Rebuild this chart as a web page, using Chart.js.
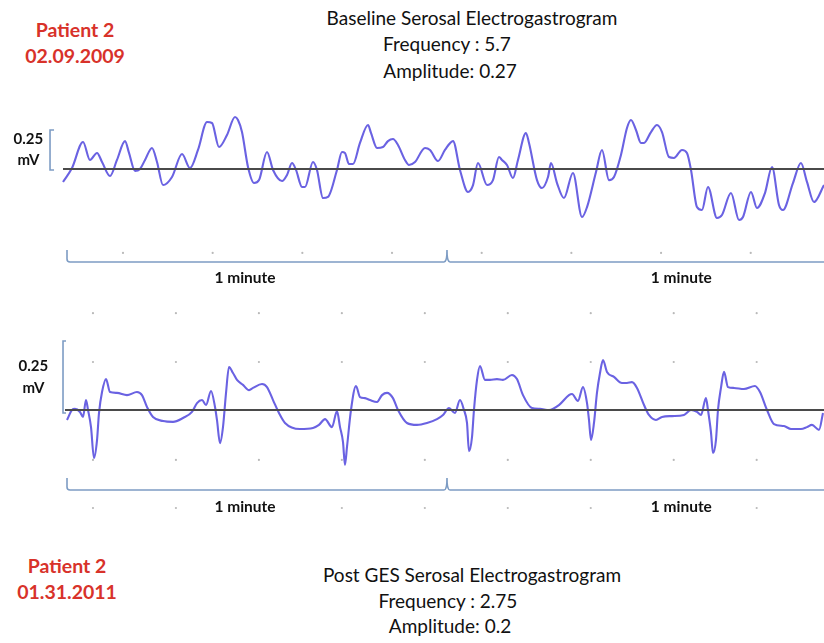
<!DOCTYPE html>
<html>
<head>
<meta charset="utf-8">
<script src="https://cdn.jsdelivr.net/npm/chart.js@4/dist/chart.umd.min.js"></script>
<style>
  html, body { margin: 0; padding: 0; background: #fff; }
  #page { position: relative; width: 824px; height: 643px; overflow: hidden; font-family: Lato, "Open Sans", sans-serif; }
  .txt { position: absolute; white-space: nowrap; transform: translate(-50%, -50%); line-height: 1; }
  .head { font-size: 19px; color: #111; }
  .pat { font-size: 19.5px; font-weight: bold; color: #d8322a; }
  canvas { position: absolute; left: 0; }
</style>
</head>
<body>
<div id="page">
  <div class="txt pat" style="left:75px; top:30px;">Patient 2</div>
  <div class="txt pat" style="left:75px; top:56px;">02.09.2009</div>
  <div class="txt head" style="left:472px; top:17px;">Baseline Serosal Electrogastrogram</div>
  <div class="txt head" style="left:447px; top:43px;">Frequency : 5.7</div>
  <div class="txt head" style="left:450px; top:70px;">Amplitude: 0.27</div>

  <canvas id="topTrace" width="824" height="210" style="top:90px;"></canvas>
  <canvas id="bottomTrace" width="824" height="230" style="top:300px;"></canvas>

  <div class="txt pat" style="left:67px; top:566px;">Patient 2</div>
  <div class="txt pat" style="left:67px; top:592px;">01.31.2011</div>
  <div class="txt head" style="left:472px; top:574px;">Post GES Serosal Electrogastrogram</div>
  <div class="txt head" style="left:448px; top:600px;">Frequency : 2.75</div>
  <div class="txt head" style="left:450px; top:625px;">Amplitude: 0.2</div>
</div>
<script>
// Baseline recording: time (s) and potential (mV)
const baselineTime = [-0.63,0.79,2.53,3.63,4.74,5.53,6.79,7.89,9.16,9.79,10.74,11.53,12.32,13.42,14.21,15.16,16.58,18.16,19.42,20.68,22.11,22.89,24.0,25.26,26.53,27.0,27.63,28.58,29.53,30.32,31.58,32.53,33.95,34.74,35.53,36.16,37.11,37.58,38.84,39.47,40.42,41.21,42.63,43.42,43.89,44.53,45.16,46.26,47.53,48.0,48.95,49.89,50.68,51.47,52.26,53.37,54.0,54.95,56.53,57.32,58.58,59.68,60.95,62.05,63.32,64.11,64.89,66.32,67.26,68.21,68.68,69.47,70.42,71.21,72.47,72.95,74.21,75.0,75.95,76.42,77.37,78.47,79.89,81.32,82.11,83.53,84.47,85.58,86.37,87.47,88.42,89.05,89.84,90.63,91.11,92.21,93.16,93.95,95.05,95.84,97.11,97.89,98.53,99.47,100.26,101.21,102.63,103.42,104.84,106.11,106.74,108.0,108.95,110.21,111.32,112.42,113.05,114.63,115.89,116.84,117.95,119.53];
const baselineMv = [-0.083,0.006,0.173,0.058,0.103,0.045,-0.045,0.058,0.179,0.103,-0.013,0.0,0.058,0.135,0.045,-0.103,-0.051,0.096,0.006,0.122,0.301,0.295,0.141,0.218,0.333,0.314,0.237,0.013,-0.090,-0.071,0.109,-0.006,-0.077,-0.038,0.038,-0.006,-0.115,-0.115,0.045,-0.006,-0.186,-0.179,-0.006,0.109,0.103,0.032,0.032,0.167,0.282,0.231,0.135,0.141,0.179,0.192,0.154,0.058,0.026,0.045,0.135,0.122,0.051,0.122,0.179,-0.006,-0.147,-0.103,0.038,-0.103,-0.071,0.077,0.058,0.026,-0.058,0.058,0.231,0.167,-0.071,-0.122,-0.051,0.038,-0.090,-0.186,-0.026,-0.308,-0.244,-0.019,0.122,-0.071,-0.051,0.090,0.263,0.314,0.250,0.167,0.167,0.237,0.282,0.237,0.077,0.071,0.122,0.103,-0.006,-0.244,-0.263,-0.115,-0.314,-0.295,-0.154,-0.327,-0.308,-0.147,-0.250,-0.154,0.013,-0.231,-0.263,-0.090,0.038,-0.083,-0.212,-0.103];

// Post-GES recording: time (s) and potential (mV)
const postTime = [0,0.79,1.26,2.05,2.53,3.0,3.32,3.79,4.26,4.74,5.05,5.53,6.16,6.79,7.89,9.47,11.05,11.84,12.63,13.58,15.16,16.74,18.32,19.74,20.53,21.32,21.95,22.74,23.37,23.68,24.16,24.63,25.11,25.58,26.21,26.84,27.79,28.74,29.37,30.79,31.58,32.53,33.47,34.42,36.79,38.84,39.79,40.74,41.84,42.63,43.11,43.58,43.89,44.21,44.84,45.63,46.26,47.05,47.84,48.95,49.74,50.53,51.47,52.26,53.68,55.26,56.84,58.42,59.37,60.32,61.26,62.05,62.68,63.16,63.47,63.95,64.26,64.74,65.21,66.0,66.79,67.89,68.84,70.26,71.05,72.0,73.42,74.68,76.11,77.68,79.26,79.74,80.68,81.47,82.11,82.42,82.74,83.21,83.68,84.16,84.63,85.26,86.37,87.63,88.42,89.21,90.0,91.11,91.89,93.0,93.95,95.53,97.42,98.53,99.47,100.11,100.89,101.21,101.68,102.0,102.47,102.79,103.26,103.74,104.37,105.32,106.89,108.63,109.42,110.53,111.63,113.21,114.32,115.89,116.84,117.63,118.74,119.37];
const postMv = [-0.036,0,0.004,-0.007,-0.025,0.036,0,-0.062,-0.174,-0.109,-0.011,0.065,0.112,0.065,0.062,0.054,0.065,0.054,0.011,-0.025,-0.040,-0.043,-0.029,-0.007,0.025,0.036,0.018,0.069,0.011,-0.036,-0.120,-0.062,0.062,0.156,0.134,0.109,0.091,0.072,0.080,0.094,0.083,0.036,-0.011,-0.047,-0.069,-0.065,-0.054,-0.033,-0.062,-0.004,-0.062,-0.116,-0.199,-0.134,0,0.087,0.047,0.043,0.036,0.029,0.054,0.062,0.043,0,-0.047,-0.054,-0.047,-0.033,-0.018,0.007,-0.011,0.036,0,-0.047,-0.149,-0.098,0,0.109,0.159,0.109,0.109,0.112,0.109,0.127,0.112,0.054,0.007,0.004,0,0.018,0.054,0.058,0.033,0.083,0.025,-0.036,-0.109,-0.047,0.062,0.134,0.181,0.138,0.120,0.098,0.098,0.101,0.080,0.018,-0.018,-0.036,-0.025,-0.022,-0.018,0,-0.007,-0.018,0.043,0,-0.080,-0.156,-0.109,0,0.080,0.138,0.083,0.080,0.076,0.087,0.065,0,-0.051,-0.058,-0.069,-0.069,-0.062,-0.054,-0.072,-0.011];

// Scale markers
const minuteMarks = [0, 60, 120];          // seconds
const minuteLabels = ['1 minute', '1 minute'];
const minuteLabelAt = [28.1, 97.0];        // seconds
const calibration = [0, 0.25];             // mV
const calibrationLabel = ['0.25', 'mV'];

const traceColor = '#6a62e2';
const zeroColor = '#4a4a4a';
const bracketColor = '#7d9cc4';

function points(xs, ys) { return xs.map((x, i) => ({ x: x, y: ys[i] })); }

// Draws the calibration bracket, the minute bracket, labels and faint grid dots
const decorPlugin = {
  id: 'eggDecor',
  beforeDatasetsDraw(chart, args, o) {
    const ctx = chart.ctx, xs = chart.scales.x, ys = chart.scales.y;
    ctx.save();
    ctx.fillStyle = '#b9b9b9';
    o.dotRows.forEach(r => {
      for (let t = o.dotStart; t < 121; t += o.dotStep) {
        ctx.beginPath();
        ctx.arc(xs.getPixelForValue(t), ys.getPixelForValue(r), 1.1, 0, Math.PI * 2);
        ctx.fill();
      }
    });
    ctx.restore();
  },
  afterDatasetsDraw(chart, args, o) {
    const ctx = chart.ctx, xs = chart.scales.x, ys = chart.scales.y;
    ctx.save();
    // calibration bracket
    const bx = xs.getPixelForValue(o.calX);
    const y0 = ys.getPixelForValue(calibration[0]) + o.calDrop;
    const y1 = ys.getPixelForValue(calibration[1]);
    ctx.strokeStyle = bracketColor;
    ctx.lineWidth = 1.6;
    ctx.beginPath();
    ctx.moveTo(bx + o.calArm, y1);
    ctx.lineTo(bx, y1);
    ctx.lineTo(bx, y0);
    ctx.lineTo(bx + o.calArm, y0);
    ctx.stroke();
    ctx.fillStyle = '#111';
    ctx.font = 'bold 15px Lato, "Open Sans", sans-serif';
    ctx.textAlign = 'center';
    ctx.textBaseline = 'middle';
    const lx = xs.getPixelForValue(o.calLabelX);
    const midY = (y0 + y1) / 2;
    ctx.fillText(calibrationLabel[0], lx, midY - o.calLabelGap);
    ctx.fillText(calibrationLabel[1], lx, midY + o.calLabelGap);

    // minute bracket
    const by = ys.getPixelForValue(o.minuteY);
    const h = o.minuteTick;
    const xa = xs.getPixelForValue(minuteMarks[0]);
    const xm = xs.getPixelForValue(minuteMarks[1]);
    const xb = xs.getPixelForValue(minuteMarks[2]);
    ctx.beginPath();
    ctx.moveTo(xa, by - h);
    ctx.lineTo(xa, by - 3);
    ctx.quadraticCurveTo(xa, by, xa + 3, by);
    ctx.lineTo(xm - 3, by);
    ctx.quadraticCurveTo(xm, by, xm, by - h);
    ctx.quadraticCurveTo(xm, by, xm + 3, by);
    ctx.lineTo(xb, by);
    ctx.stroke();
    ctx.font = 'bold 15.5px Lato, "Open Sans", sans-serif';
    const ly = ys.getPixelForValue(o.minuteLabelY);
    ctx.fillText(minuteLabels[0], xs.getPixelForValue(minuteLabelAt[0]), ly);
    ctx.fillText(minuteLabels[1], xs.getPixelForValue(minuteLabelAt[1]), ly);
    ctx.restore();
  }
};

function makeChart(id, xs, ys, zeroFrom, yMin, yMax, decor) {
  return new Chart(document.getElementById(id), {
    type: 'line',
    data: {
      datasets: [
        {
          data: [{ x: zeroFrom, y: 0 }, { x: 119.6, y: 0 }],
          borderColor: zeroColor, borderWidth: 1.8, pointRadius: 0, tension: 0
        },
        {
          data: points(xs, ys),
          borderColor: traceColor, borderWidth: 2.1, pointRadius: 0,
          cubicInterpolationMode: 'monotone'
        }
      ]
    },
    options: {
      responsive: false,
      animation: false,
      devicePixelRatio: 1,
      layout: { padding: 0 },
      scales: {
        x: { type: 'linear', min: -10.58, max: 119.53, display: false },
        y: { type: 'linear', min: yMin, max: yMax, display: false }
      },
      plugins: { legend: { display: false }, tooltip: { enabled: false }, eggDecor: decor }
    },
    plugins: [decorPlugin]
  });
}

// Baseline trace: 156 px per mV, zero at 79 px from the top of its canvas
makeChart('topTrace', baselineTime, baselineMv, -0.63, -0.8397, 0.5064, {
  calX: -2.68, calArm: 4, calDrop: 1, calLabelX: -6.1, calLabelGap: 10.5,
  minuteY: -0.596, minuteTick: 12, minuteLabelY: -0.699,
  dotRows: [-0.538], dotStart: 8.84, dotStep: 14.16
});

// Post-GES trace: 276 px per mV, zero at 110 px from the top of its canvas
makeChart('bottomTrace', postTime, postMv, -0.32, -0.4348, 0.3986, {
  calX: -0.63, calArm: 3, calDrop: 3, calLabelX: -5.3, calLabelGap: 11,
  minuteY: -0.290, minuteTick: 12, minuteLabelY: -0.351,
  dotRows: [0.351, 0.174, -0.181, -0.355], dotStart: 4.1, dotStep: 13.1
});
</script>
</body>
</html>
